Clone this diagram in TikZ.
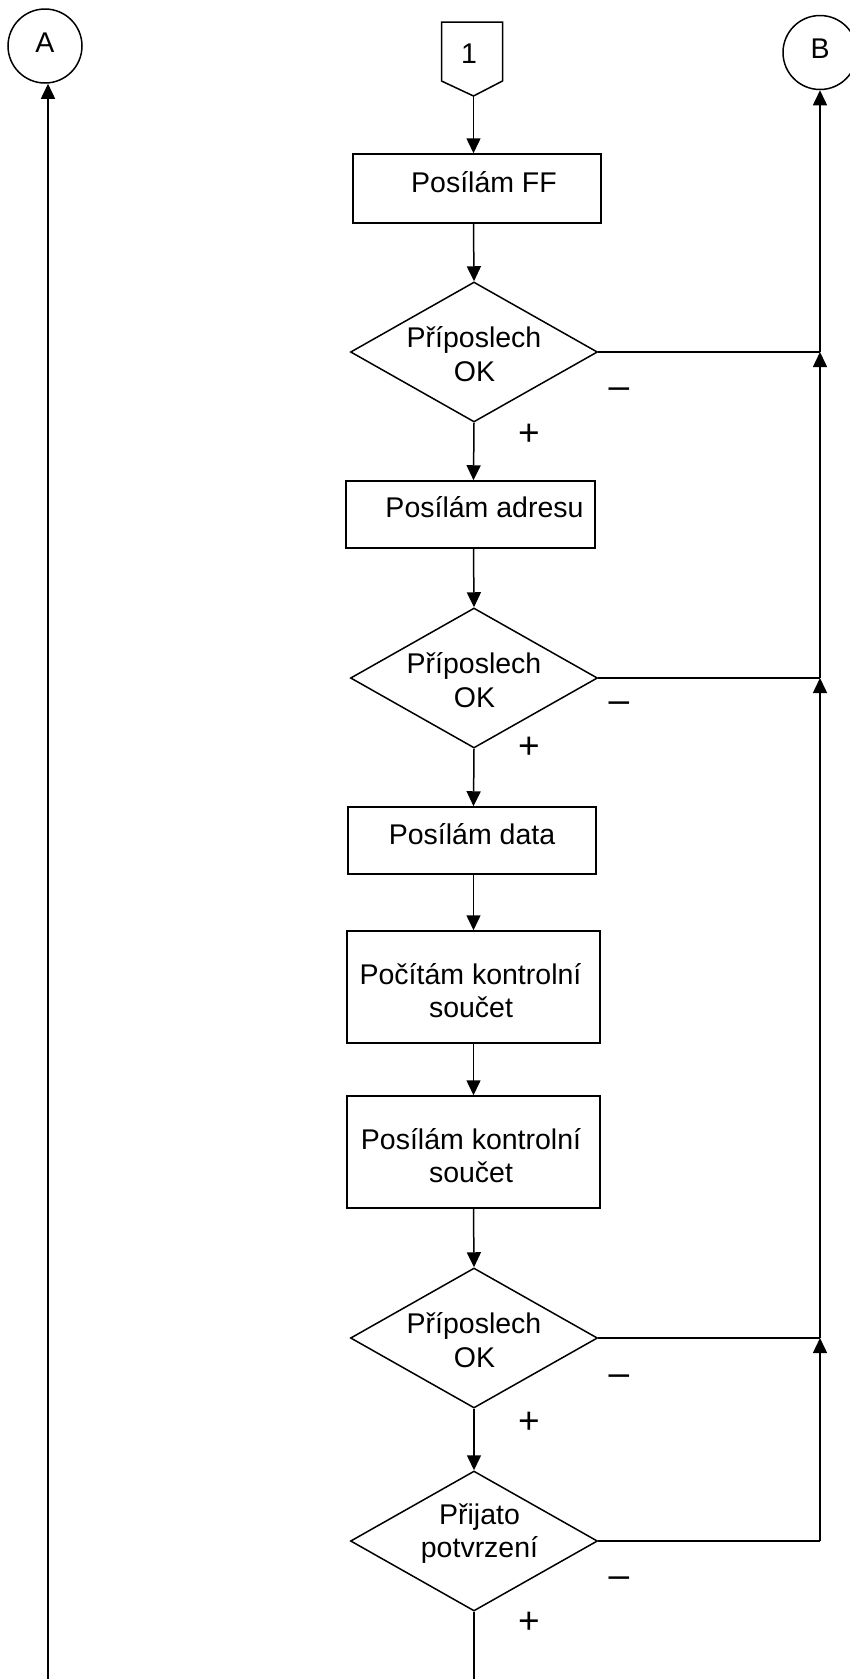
\documentclass[tikz,border=0pt]{standalone}
\usepackage{fontspec}
\setmainfont{Liberation Sans}
\usetikzlibrary{shapes.geometric,arrows.meta}
\begin{document}
\begin{tikzpicture}[x=1pt,y=-1pt,
  line/.style={line width=1.5pt},
  arr/.style={line width=1.5pt,-{Triangle[length=15pt,width=14pt]}},
  procbox/.style={draw,line width=1.5pt,rectangle,inner sep=0pt},
  decide/.style={draw,line width=1.5pt,diamond,inner sep=0pt,aspect=1.76,
                 minimum width=247pt,minimum height=140pt},
  conn/.style={draw,line width=1.5pt,circle,inner sep=0pt,minimum size=74pt,
               text height=20pt,text depth=8pt,font=\fontsize{28.5}{34}\selectfont},
  txt/.style={anchor=base,inner sep=0pt,font=\fontsize{28.5}{34}\selectfont},
  sign/.style={inner sep=0pt,font=\fontsize{37}{40}\selectfont}]
\useasboundingbox (0,0) rectangle (849,1679);

% off-page connectors
\node[conn] (A) at (45,46) {A};
\node[conn] (B) at (820,52.5) {B};

% entry point "1"
\coordinate (spine) at (473.5,0);
\coordinate (p1tip) at (473.5,96);
\draw[line,line join=miter] (441.5,22) -- (502.5,22) -- (502.5,81) -- (p1tip)
  -- (441.5,81) -- cycle;
\node[txt] (p1) at (469,63) {1};

% process boxes
\node[procbox,minimum width=248pt,minimum height=69pt] (b1) at (477,188.5) {};
\node[txt] (b1t) at (484,192.5) {Posílám FF};

\node[procbox,minimum width=249pt,minimum height=67pt] (b2) at (470.5,514.5) {};
\node[txt] (b2t) at (484.5,517) {Posílám adresu};

\node[procbox,minimum width=248pt,minimum height=67pt] (b3) at (472,840.5) {};
\node[txt] (b3t) at (472,844) {Posílám data};

\node[procbox,minimum width=253pt,minimum height=112pt] (b4) at (473.5,987) {};
\node[txt] (b4a) at (470.5,984) {Počítám kontrolní};
\node[txt] (b4b) at (471,1017) {součet};

\node[procbox,minimum width=253pt,minimum height=112pt] (b5) at (473.5,1152) {};
\node[txt] (b5a) at (471,1149) {Posílám kontrolní};
\node[txt] (b5b) at (471,1182) {součet};

% decisions
\node[decide] (d1) at (474,352) {};
\node[txt] (d1a) at (474,347) {Příposlech};
\node[txt] (d1b) at (474.5,381) {OK};

\node[decide] (d2) at (474,678) {};
\node[txt] (d2a) at (474,673) {Příposlech};
\node[txt] (d2b) at (474.5,707) {OK};

\node[decide] (d3) at (474,1338) {};
\node[txt] (d3a) at (474,1333) {Příposlech};
\node[txt] (d3b) at (474.5,1367) {OK};

\node[decide] (d4) at (474,1541) {};
\node[txt] (d4a) at (479.5,1524) {Přijato};
\node[txt] (d4b) at (479.5,1557) {potvrzení};

% branch marks
\node[sign] (m1) at (619,393) {–};
\node[sign] (s1) at (529,435) {+};
\node[sign] (m2) at (619,707) {–};
\node[sign] (s2) at (529,748) {+};
\node[sign] (m3) at (619,1380) {–};
\node[sign] (s3) at (529,1423) {+};
\node[sign] (m4) at (619,1582) {–};
\node[sign] (s4) at (529,1623) {+};

% main flow
\draw[arr] (p1tip) -- (b1.north -| spine);
\draw[arr] (b1.south -| spine) -- (d1.north);
\draw[arr] (d1.south) -- (b2.north -| spine);
\draw[arr] (b2.south -| spine) -- (d2.north);
\draw[arr] (d2.south) -- (b3.north -| spine);
\draw[arr] (b3.south -| spine) -- (b4.north -| spine);
\draw[arr] (b4.south -| spine) -- (b5.north -| spine);
\draw[arr] (b5.south -| spine) -- (d3.north);
\draw[arr] (d3.south) -- (d4.north);
\coordinate (bot) at (0,1690);
\draw[line] (d4.south) -- (d4.south |- bot);

% return line to A
\coordinate (abot) at (48,1690);
\draw[arr] (abot) -- (abot |- A.south);

% failure branches to B
\coordinate (j1) at (d1.east -| B.south);
\coordinate (j2) at (d2.east -| B.south);
\coordinate (j3) at (d3.east -| B.south);
\coordinate (j4) at (d4.east -| B.south);
\draw[line] (d1.east) -- (j1);
\draw[line] (d2.east) -- (j2);
\draw[line] (d3.east) -- (j3);
\draw[line] (d4.east) -- (j4);
\draw[arr] (j1) -- (B.south);
\draw[arr] (j2) -- (j1);
\draw[arr] (j3) -- (j2);
\draw[arr] (j4) -- (j3);
\end{tikzpicture}
\end{document}
